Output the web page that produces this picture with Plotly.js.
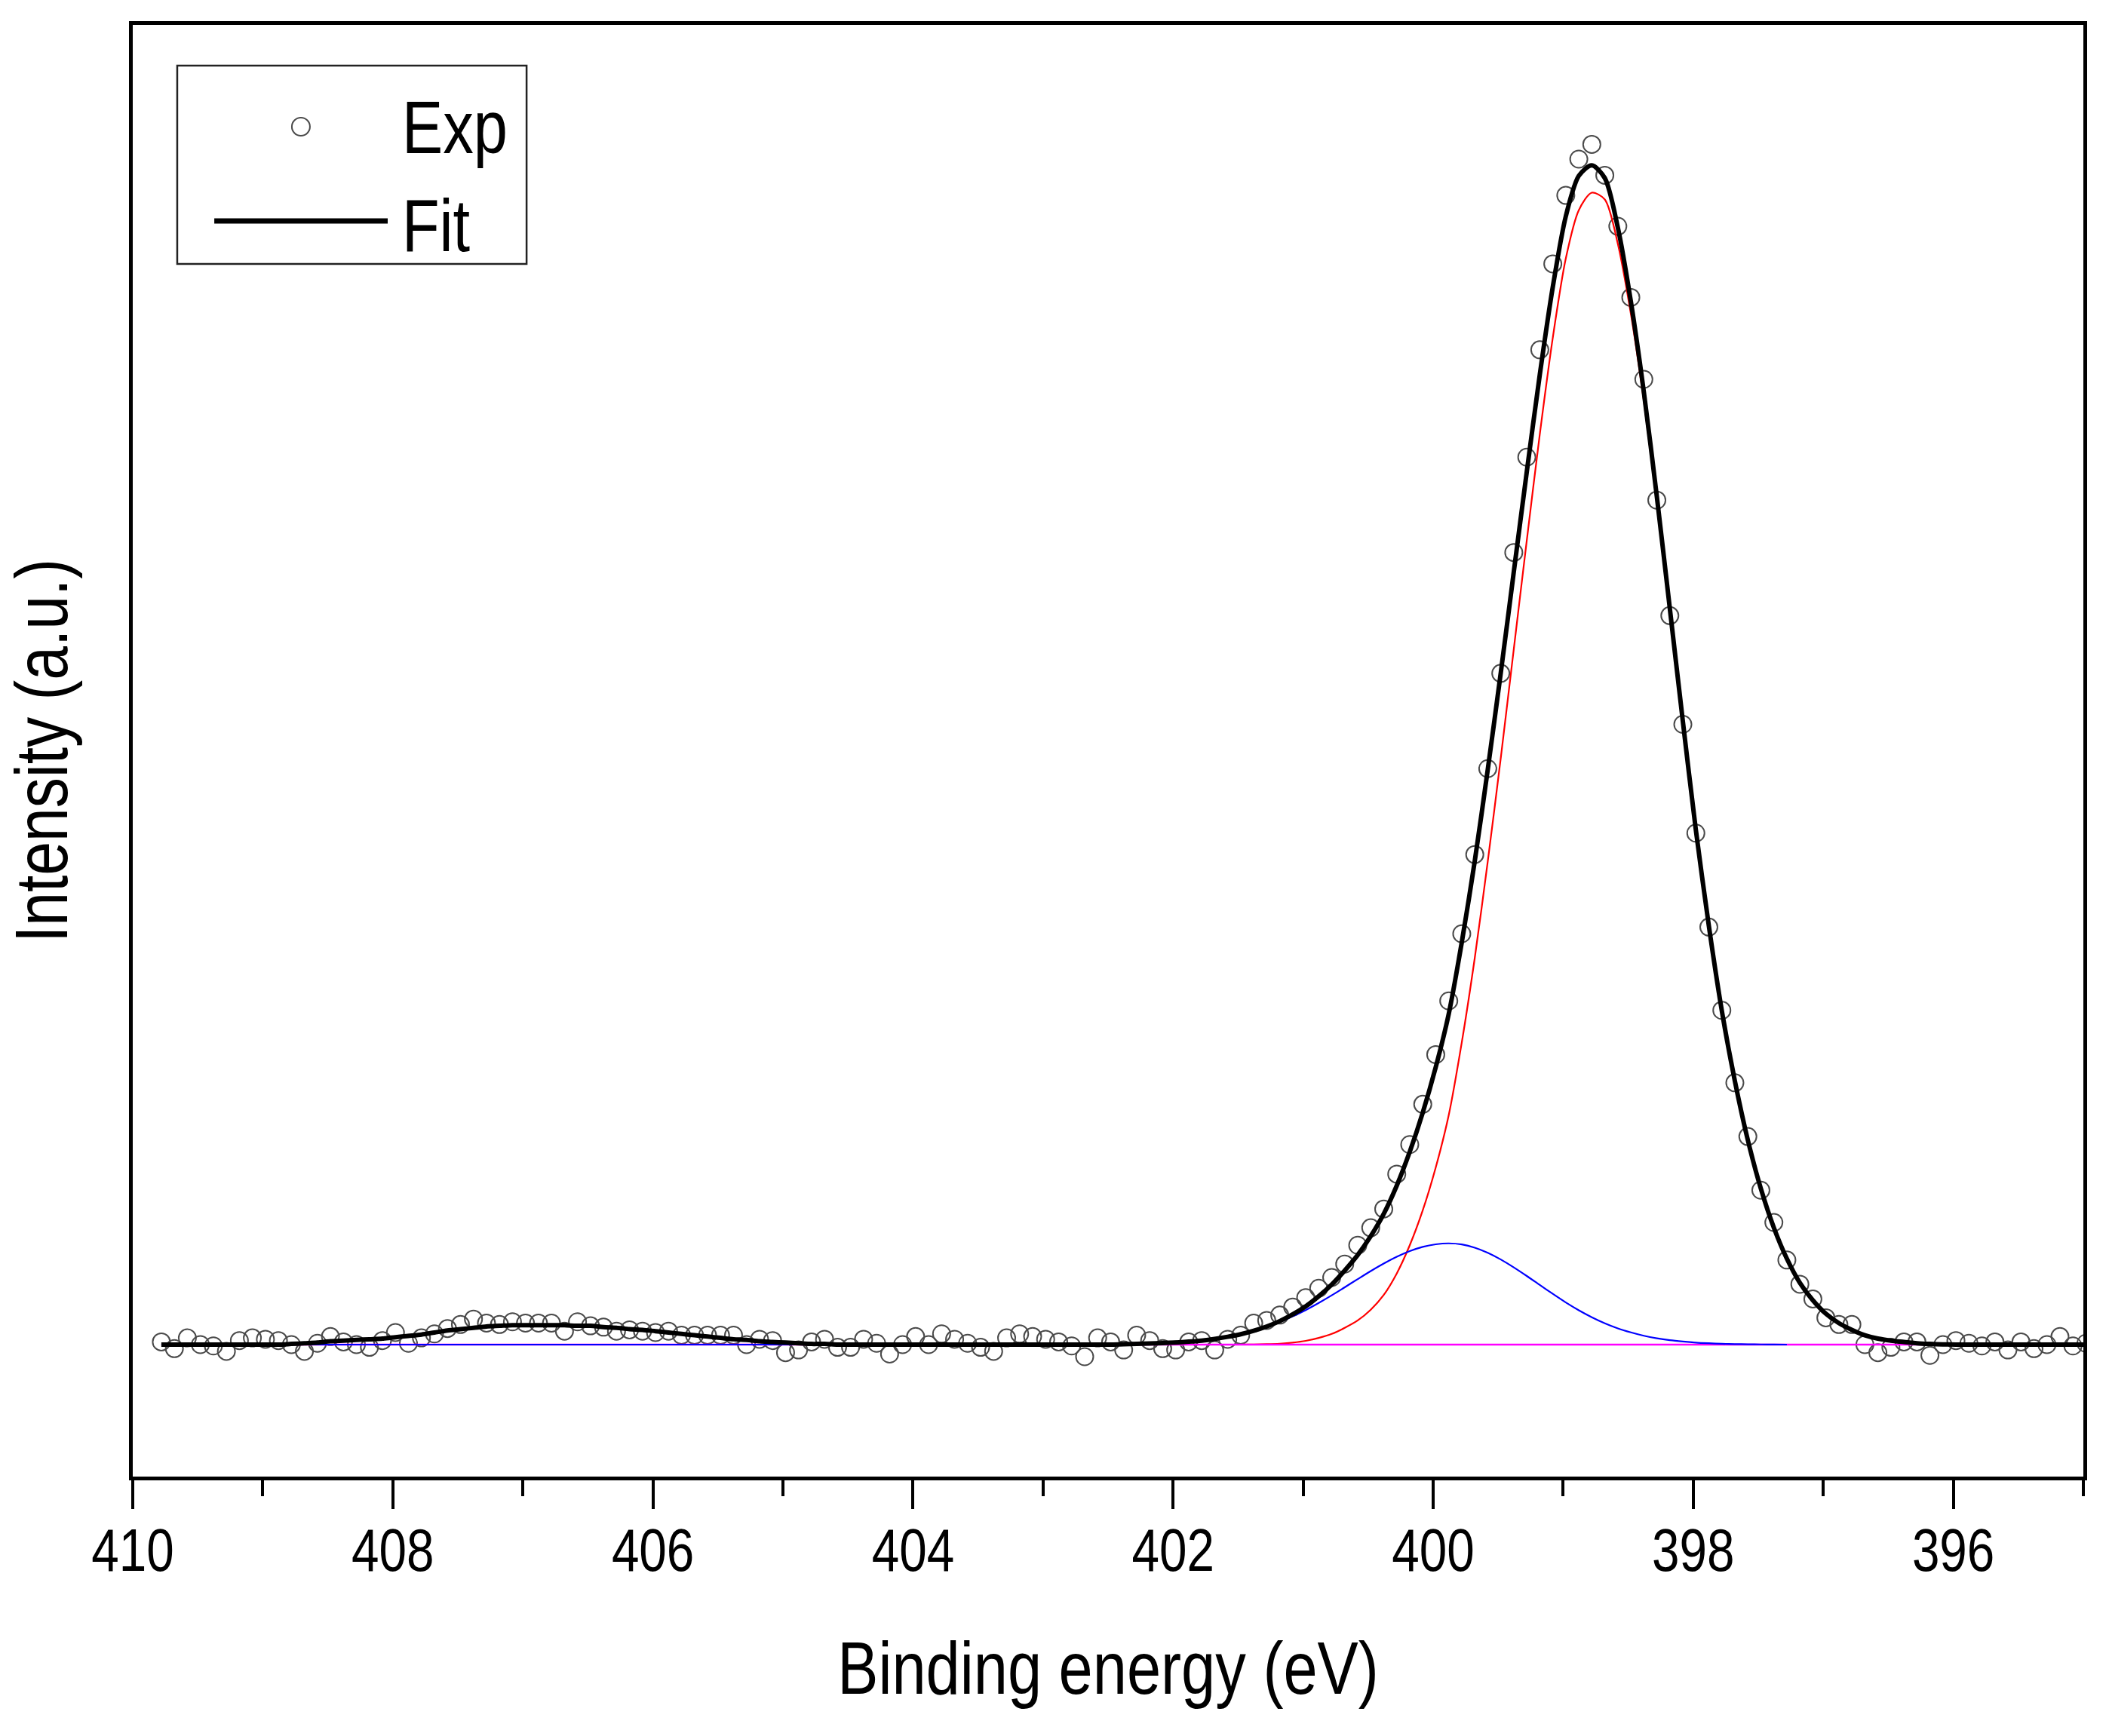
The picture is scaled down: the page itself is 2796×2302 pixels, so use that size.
<!DOCTYPE html>
<html>
<head>
<meta charset="utf-8">
<script src="https://cdn.plot.ly/plotly-3.0.1.min.js"></script>
<style>html,body{margin:0;padding:0;background:#fff;}#chart{width:2796px;height:2302px;}</style>
</head>
<body>
<div id="chart"></div>
<script>
// Binding energy (eV), one value per recorded point
const energy = [
409.78,409.68,409.58,409.48,409.38,409.28,409.18,409.08,408.98,408.88,
408.78,408.68,408.58,408.48,408.38,408.28,408.18,408.08,407.98,407.88,
407.78,407.68,407.58,407.48,407.38,407.28,407.18,407.08,406.98,406.88,
406.78,406.68,406.58,406.48,406.38,406.28,406.18,406.08,405.98,405.88,
405.78,405.68,405.58,405.48,405.38,405.28,405.18,405.08,404.98,404.88,
404.78,404.68,404.58,404.48,404.38,404.28,404.18,404.08,403.98,403.88,
403.78,403.68,403.58,403.48,403.38,403.28,403.18,403.08,402.98,402.88,
402.78,402.68,402.58,402.48,402.38,402.28,402.18,402.08,401.98,401.88,
401.78,401.68,401.58,401.48,401.38,401.28,401.18,401.08,400.98,400.88,
400.78,400.68,400.58,400.48,400.38,400.28,400.18,400.08,399.98,399.88,
399.78,399.68,399.58,399.48,399.38,399.28,399.18,399.08,398.98,398.88,
398.78,398.68,398.58,398.48,398.38,398.28,398.18,398.08,397.98,397.88,
397.78,397.68,397.58,397.48,397.38,397.28,397.18,397.08,396.98,396.88,
396.78,396.68,396.58,396.48,396.38,396.28,396.18,396.08,395.98,395.88,
395.78,395.68,395.58,395.48,395.38,395.28,395.18,395.08,394.98
];

// Experimental intensity (a.u., background subtracted)
const expIntensity = [
2,-3,5,0,-1,-5,3,5,4,3,
0,-5,1,6,2,0,-2,3,9,1,
5,8,12,15,19,16,15,17,16,16,
16,10,17,14,13,10,11,10,9,10,
7,7,7,7,7,0,4,3,-6,-4,
2,4,-2,-2,4,1,-7,0,6,0,
8,4,1,-2,-5,5,8,6,4,2,
-1,-9,5,2,-4,7,3,-3,-4,2,
3,-4,4,7,16,18,22,28,35,42,
50,60,74,87,101,127,149,179,216,256,
306,365,429,500,590,661,741,805,856,883,
894,871,833,780,719,629,543,462,381,311,
249,195,155,115,91,63,45,34,20,15,
15,0,-6,-2,2,2,-8,0,3,1,
-1,2,-4,2,-3,0,6,-1,1
];

// Envelope of the fit
const fitTotal = [
0,0,0,0,0,0,0,0,0,0,
0.5,1,1.5,2.5,3,3.5,4,4.5,5.5,6.5,
7.5,9,10.5,11.5,12.5,13.5,14,14.5,14.5,14.5,
14.5,14.5,14,14,13,12.5,11.5,11,10,9,
8,7,6,5,4,3.5,2.5,2,1.5,1,
0.5,0.5,0,0,0,0,0,0,0,0,
0,0,0,0,0,0,0,0,0,0,
0,0,0,0,0.3,0.5,0.8,1.1,1.6,2.2,
3,4.2,5.8,7.7,10.3,13.5,17.5,22.5,28.5,36,
44.7,55.2,66.8,80.8,97.4,118.4,143.6,172.8,206.7,246.4,
299.6,360.2,428.4,500.4,575.5,650.1,722.4,787.8,840.4,870.6,
878.4,868.9,832.1,777.1,709.6,631.7,548.3,464.3,383.5,312,
248.6,196.4,152.3,116.2,87.1,64,46,33,23,16,
11,7,4.5,3,2,1,0.5,0.2,0,0,
0,0,0,0,0,0,0,0,0
];

// Main component (red), points 80..140 of the energy list
const peakMainStart = 80;
const peakMain = [
0,0,0,0,0.1,0.3,0.7,1.5,2.8,5,
8,12.5,18,26,37,53,74,100,132,171,
225,288,360,437,518,599,678,750,809,845,
858,853,820,768,703,627,545,462,382,311,
248,196,152,116,87,64,46,33,23,16,
11,7,4.5,3,2,1,0.5,0.2,0,0,
0
];

// Second component (blue), points 0..125 of the energy list
const peakSecond = [
0,0,0,0,0,0,0,0,0,0,
0,0,0,0,0,0,0,0,0,0,
0,0,0,0,0,0,0,0,0,0,
0,0,0,0,0,0,0,0,0,0,
0,0,0,0,0,0,0,0,0,0,
0,0,0,0,0,0,0,0,0,0,
0,0,0,0,0,0,0,0,0,0,
0,0,0.1,0.2,0.3,0.45,0.7,1.0,1.5,2.2,
3.0,4.2,5.8,7.7,10.2,13.2,16.8,21.0,25.7,31.0,
36.7,42.7,48.8,54.8,60.4,65.4,69.6,72.8,74.7,75.4,
74.6,72.2,68.4,63.4,57.5,51.1,44.4,37.8,31.4,25.6,
20.4,15.9,12.1,9.1,6.6,4.7,3.3,2.3,1.5,1.0,
0.6,0.4,0.25,0.15,0.1,0
];

// Background (magenta)
const baselineEnergy = [409.78, 394.98];
const baselineValue = [0, 0];

const xTickVals = [410, 408, 406, 404, 402, 400, 398, 396];
const xTickText = ['410', '408', '406', '404', '402', '400', '398', '396'];

const FONT = '"Liberation Sans Narrow", "Arial Narrow", "Liberation Sans", Arial, sans-serif';
const NARROW = 0.82; // the reference uses a condensed face

const traces = [
  {
    x: energy, y: expIntensity, type: 'scatter', mode: 'markers', name: 'Exp',
    marker: {symbol: 'circle-open', size: 23, color: '#4a4a4a', line: {width: 2, color: '#4a4a4a'}}
  },
  {
    x: energy.slice(peakMainStart, peakMainStart + peakMain.length), y: peakMain,
    type: 'scatter', mode: 'lines', name: 'N1',
    line: {color: '#ff0000', width: 2.2, shape: 'spline', smoothing: 0.8}
  },
  {
    x: baselineEnergy, y: baselineValue, type: 'scatter', mode: 'lines', name: 'Background',
    line: {color: '#ff00ff', width: 2.5}
  },
  {
    x: energy.slice(0, peakSecond.length), y: peakSecond,
    type: 'scatter', mode: 'lines', name: 'N2',
    line: {color: '#0000ff', width: 2.2, shape: 'spline', smoothing: 0.8}
  },
  {
    x: energy, y: fitTotal, type: 'scatter', mode: 'lines', name: 'Fit',
    line: {color: '#000000', width: 6, shape: 'spline', smoothing: 0.8}
  }
];

// legend geometry (paper coordinates)
const L = {x0: 0.0228, x1: 0.2019, y0: 0.8353, y1: 0.9719};

const layout = {
  width: 2796, height: 2302,
  margin: {l: 176, r: 34, t: 33, b: 344, pad: 0},
  paper_bgcolor: '#ffffff', plot_bgcolor: '#ffffff',
  showlegend: false,
  font: {family: FONT, color: '#000000', size: 80},
  xaxis: {
    range: [410, 395],
    tickvals: xTickVals, ticktext: xTickText,
    ticks: 'outside', ticklen: 38, tickwidth: 4, tickcolor: '#000',
    minor: {dtick: 1, tick0: 0, ticks: 'outside', ticklen: 21, tickwidth: 4, tickcolor: '#000', showgrid: false},
    showline: true, linewidth: 5, linecolor: '#000', mirror: true,
    showgrid: false, zeroline: false,
    tickfont: {family: FONT, size: 80, color: '#000'},
    ticklabelstandoff: -14,
    title: {text: 'Binding energy (eV)', font: {family: FONT, size: 99, color: '#000'}, standoff: 79},
    automargin: false
  },
  yaxis: {
    range: [-98.3, 983],
    showticklabels: false, ticks: '',
    showline: true, linewidth: 5, linecolor: '#000', mirror: true,
    showgrid: false, zeroline: false,
    title: {text: 'Intensity (a.u.)', font: {family: FONT, size: 98, color: '#000'}, standoff: 55},
    automargin: false
  },
  shapes: [
    {type: 'rect', xref: 'paper', yref: 'paper', x0: L.x0, x1: L.x1, y0: L.y0, y1: L.y1,
     line: {color: '#222', width: 2.5}, fillcolor: 'rgba(0,0,0,0)'},
    {type: 'line', xref: 'paper', yref: 'paper', x0: 0.0418, x1: 0.1307, y0: 0.8649, y1: 0.8649,
     line: {color: '#000', width: 7}},
    {type: 'circle', xref: 'paper', yref: 'paper', xsizemode: 'pixel', ysizemode: 'pixel',
     xanchor: 0.0862, yanchor: 0.9299, x0: -12, x1: 12, y0: -12, y1: 12,
     line: {color: '#4a4a4a', width: 2}, fillcolor: 'rgba(0,0,0,0)'}
  ],
  annotations: [
    {xref: 'paper', yref: 'paper', x: 0.1373, y: 0.9296, xanchor: 'left', yanchor: 'middle',
     text: 'Exp', showarrow: false, font: {family: FONT, size: 99, color: '#000'}},
    {xref: 'paper', yref: 'paper', x: 0.1373, y: 0.8623, xanchor: 'left', yanchor: 'middle',
     text: 'Fit', showarrow: false, font: {family: FONT, size: 99, color: '#000'}}
  ]
};

Plotly.newPlot('chart', traces, layout, {staticPlot: true, displayModeBar: false}).then(function (gd) {
  // condense the glyphs horizontally, keeping each text a real text element
  var centered = gd.querySelectorAll('.xtick text, .g-xtitle text, .g-ytitle text');
  centered.forEach(function (t) {
    var len = t.getComputedTextLength();
    t.setAttribute('textLength', (len * NARROW).toFixed(2));
    t.setAttribute('lengthAdjust', 'spacingAndGlyphs');
  });
  var ann = gd.querySelectorAll('.annotation-text');
  ann.forEach(function (t) {
    var len = t.getComputedTextLength();
    var x0 = parseFloat(t.getAttribute('x') || '0');
    t.setAttribute('textLength', (len * NARROW).toFixed(2));
    t.setAttribute('lengthAdjust', 'spacingAndGlyphs');
    t.setAttribute('x', (x0 - len * (1 - NARROW) / 2).toFixed(2));
  });
});
</script>
</body>
</html>
